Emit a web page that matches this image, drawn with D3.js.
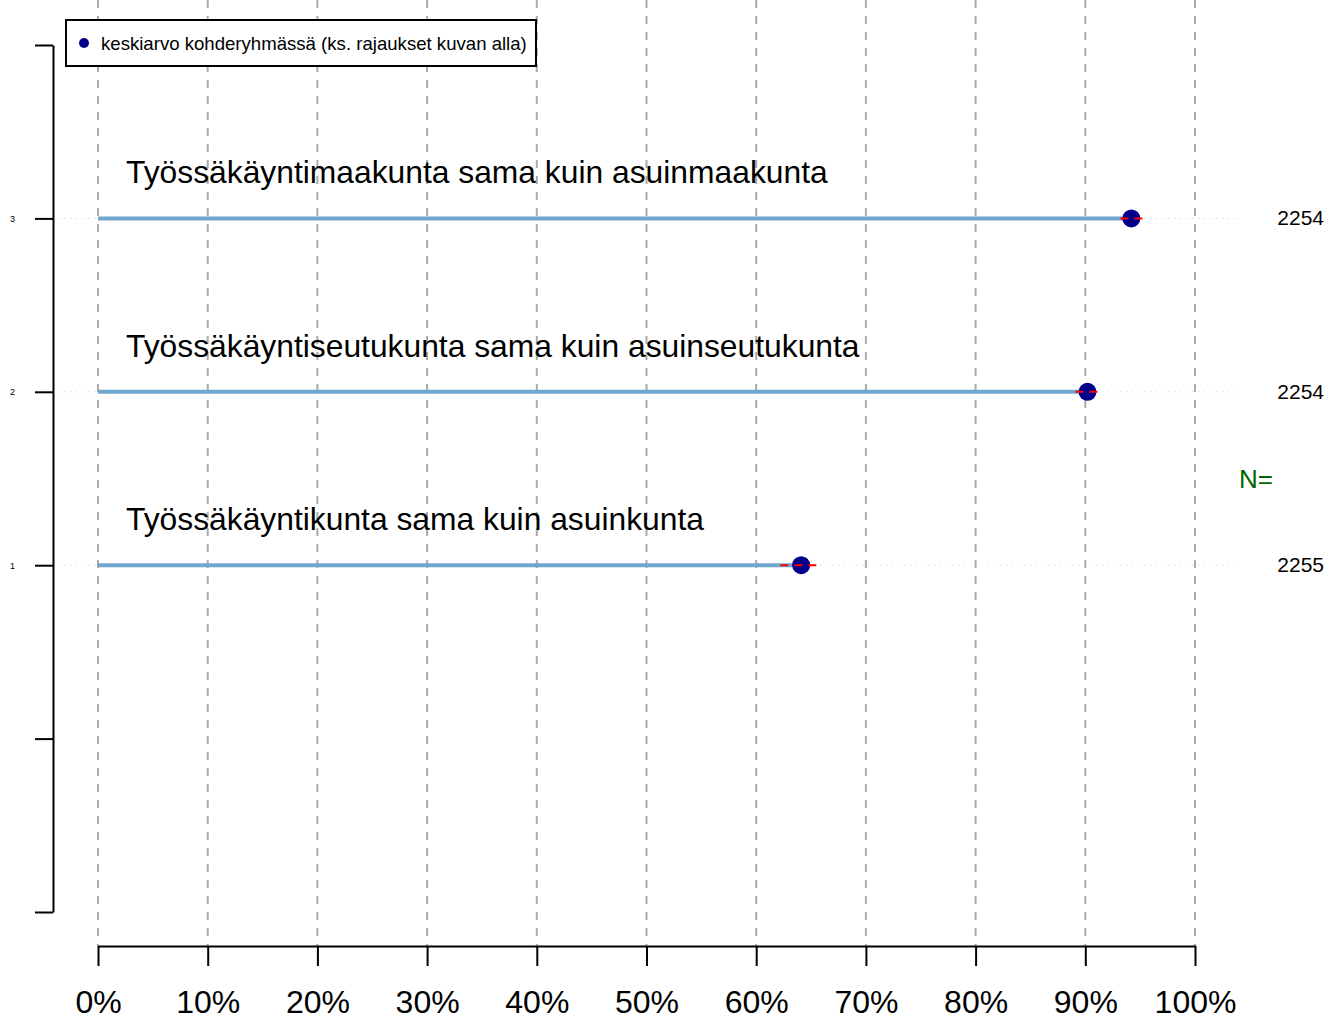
<!DOCTYPE html>
<html><head><meta charset="utf-8">
<script src="https://cdn.jsdelivr.net/npm/d3@7"></script>
<style>body{margin:0;background:#fff;} svg{display:block;font-family:"Liberation Sans",Arial,sans-serif;}</style>
</head><body>
<script>
const categories = ["Työssäkäyntikunta sama kuin asuinkunta","Työssäkäyntiseutukunta sama kuin asuinseutukunta","Työssäkäyntimaakunta sama kuin asuinmaakunta"];
const positions = [1,2,3];
const means = [64.1, 90.2, 94.2];
const ciLow = [62.2, 89.1, 93.2];
const ciHigh = [65.8, 91.3, 95.3];
const nValues = ["2255","2254","2254"];
const xTicks = [0,10,20,30,40,50,60,70,80,90,100];
const yTicks = [-1,0,1,2,3,4];
const yTickLabels = {1:"1",2:"2",3:"3"};
const legendText = "keskiarvo kohderyhmässä (ks. rajaukset kuvan alla)";

const W=1328,H=1020;
const svg=d3.select("body").append("svg").attr("width",W).attr("height",H);
const x=d3.scaleLinear().domain([0,100]).range([98,1195]);
const y=d3.scaleLinear().domain([-1,4]).range([912,45]);

// vertical dashed grid
svg.append("g").selectAll("line").data(xTicks).join("line")
 .attr("x1",d=>x(d)).attr("x2",d=>x(d)).attr("y1",0).attr("y2",946)
 .attr("stroke","#aaaaaa").attr("stroke-width",2).attr("stroke-dasharray","8,8");

// dotted horizontal lines
svg.append("g").selectAll("line").data(positions).join("line")
 .attr("x1",58).attr("x2",1240).attr("y1",d=>y(d)).attr("y2",d=>y(d))
 .attr("stroke","#cccccc").attr("stroke-width",1).attr("stroke-dasharray","1,5");

// x axis
const xAxis=d3.axisBottom(x).tickValues(xTicks).tickFormat(d=>d+"%").tickSize(20).tickPadding(24).tickSizeOuter(0);
const gx=svg.append("g").attr("transform","translate(0,946)").call(xAxis);
gx.select(".domain").attr("stroke","#000").attr("stroke-width",2);
gx.selectAll(".tick line").attr("stroke","#000").attr("stroke-width",2);
gx.selectAll(".tick text").attr("font-size",32).attr("fill","#000").attr("font-family","Liberation Sans, Arial, sans-serif");

// y axis
const yAxis=d3.axisLeft(y).tickValues(yTicks).tickFormat(d=>yTickLabels[d]||"").tickSize(18).tickPadding(20).tickSizeOuter(0);
const gy=svg.append("g").attr("transform","translate(53,0)").call(yAxis);
gy.select(".domain").attr("stroke","#000").attr("stroke-width",2);
gy.selectAll(".tick line").attr("stroke","#000").attr("stroke-width",2);
gy.selectAll(".tick text").attr("font-size",9).attr("fill","#000").attr("font-family","Liberation Sans, Arial, sans-serif");

// bars (lines)
const data=positions.map((p,i)=>({p,m:means[i],lo:ciLow[i],hi:ciHigh[i],n:nValues[i],c:categories[i]}));
svg.append("g").selectAll("line").data(data).join("line")
 .attr("x1",x(0)).attr("x2",d=>x(d.m)).attr("y1",d=>y(d.p)).attr("y2",d=>y(d.p))
 .attr("stroke","#6fa7d0").attr("stroke-width",4);
// dots
svg.append("g").selectAll("circle").data(data).join("circle")
 .attr("cx",d=>x(d.m)).attr("cy",d=>y(d.p)).attr("r",9).attr("fill","#00008b");
// CI red dashed
svg.append("g").selectAll("line").data(data).join("line")
 .attr("x1",d=>x(d.lo)).attr("x2",d=>x(d.hi)).attr("y1",d=>y(d.p)).attr("y2",d=>y(d.p))
 .attr("stroke","#ff0000").attr("stroke-width",2).attr("stroke-dasharray","8,6");

// category labels
svg.append("g").selectAll("text").data(data).join("text")
 .attr("x",126).attr("y",d=>y(d.p)-35).text(d=>d.c)
 .attr("font-size",31.8).attr("fill","#000");

// N labels
svg.append("g").selectAll("text").data(data).join("text")
 .attr("x",1324).attr("y",d=>y(d.p)+7).attr("text-anchor","end").text(d=>d.n)
 .attr("font-size",21).attr("fill","#000");
svg.append("text").attr("x",1239).attr("y",488).text("N=").attr("font-size",26).attr("fill","#006400");

// legend
const lg=svg.append("g");
lg.append("rect").attr("x",66).attr("y",20).attr("width",470).attr("height",46).attr("fill","#fff").attr("stroke","#000").attr("stroke-width",2);
lg.append("circle").attr("cx",84).attr("cy",43).attr("r",5).attr("fill","#00008b");
lg.append("text").attr("x",101).attr("y",50).text(legendText).attr("font-size",18.6).attr("fill","#000");
</script>
</body></html>
